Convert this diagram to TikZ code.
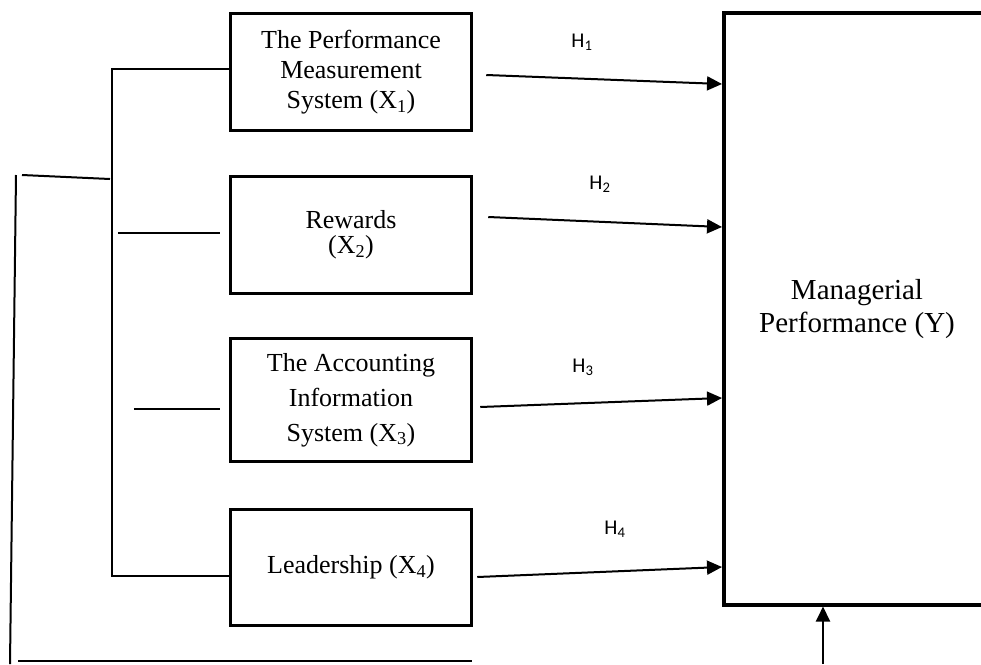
\documentclass[tikz,border=0pt]{standalone}
\usepackage{fontspec}
\setmainfont{Liberation Serif}
\newfontfamily\hfont{Carlito}
\usetikzlibrary{arrows.meta}
\begin{document}
\begin{tikzpicture}[x=1pt,y=-1pt,
  varbox/.style={draw, line width=3.5pt, minimum width=241pt, align=center, font=\fontsize{26}{30}\selectfont, inner sep=0pt},
  bigbox/.style={draw, line width=4pt, minimum width=266pt, minimum height=591.5pt, align=center, font=\fontsize{29}{33}\selectfont},
  hyp/.style={-{Triangle[length=15pt,width=14pt]}, line width=2pt},
  plain/.style={line width=2pt},
  hlab/.style={font=\hfont\fontsize{21}{24}\selectfont, inner sep=0pt}]
\useasboundingbox (0,0) rectangle (981,664);
\clip (0,0) rectangle (981,664);
% variable boxes
\node[varbox, minimum height=117pt] (b1) at (351,72) {The Performance\\Measurement\\System (X\textsubscript{1})};
\node[varbox, minimum height=117pt, font=\fontsize{26}{25}\selectfont] (b2) at (351,235) {Rewards\\(X\textsubscript{2})};
\node[varbox, minimum height=123pt, font=\fontsize{26}{35}\selectfont] (b3) at (351,400) {The Accounting\\Information\\System (X\textsubscript{3})};
\node[varbox, minimum height=116pt] (b4) at (351,567.5) {Leadership (X\textsubscript{4})};
% dependent variable
\node[bigbox] (Y) at (857,308.75) {Managerial\\Performance (Y)};
% hypothesis labels
\node[hlab] (h1) at (582,42) {H\textsubscript{1}};
\node[hlab] (h2) at (600,184) {H\textsubscript{2}};
\node[hlab] (h3) at (583,367) {H\textsubscript{3}};
\node[hlab] (h4) at (615,529) {H\textsubscript{4}};
% hypothesis arrows
\draw[hyp] ([xshift=13pt,yshift=-3pt]b1.east) -- ([yshift=224.75pt]Y.west);
\draw[hyp] ([xshift=15pt,yshift=18pt]b2.east) -- ([yshift=81.75pt]Y.west);
\draw[hyp] ([xshift=7pt,yshift=-7pt]b3.east) -- ([yshift=-89.25pt]Y.west);
\draw[hyp] ([xshift=4pt,yshift=-9.5pt]b4.east) -- ([yshift=-258.25pt]Y.west);
\coordinate (bt) at (823,664);
\draw[hyp] (bt) -- (bt |- Y.south);
% left bracket
\coordinate (brk) at (112,300);
\draw[plain] ([yshift=3pt]b1.west) -| (brk) |- ([yshift=-8.5pt]b4.west);
\draw[plain] ([xshift=-111pt,yshift=2pt]b2.west) -- ([xshift=-9pt,yshift=2pt]b2.west);
\draw[plain] ([xshift=-95pt,yshift=-9pt]b3.west) -- ([xshift=-9pt,yshift=-9pt]b3.west);
% outer loop lines
\coordinate (s1) at (22,175);
\coordinate (s2) at (110,179);
\coordinate (v1) at (16,175);
\coordinate (v2) at (10,664);
\coordinate (u1) at (18,661);
\coordinate (u2) at (472,661);
\draw[plain] (s1) -- (s2);
\draw[plain] (v1) -- (v2);
\draw[plain] (u1) -- (u2);
\end{tikzpicture}
\end{document}
